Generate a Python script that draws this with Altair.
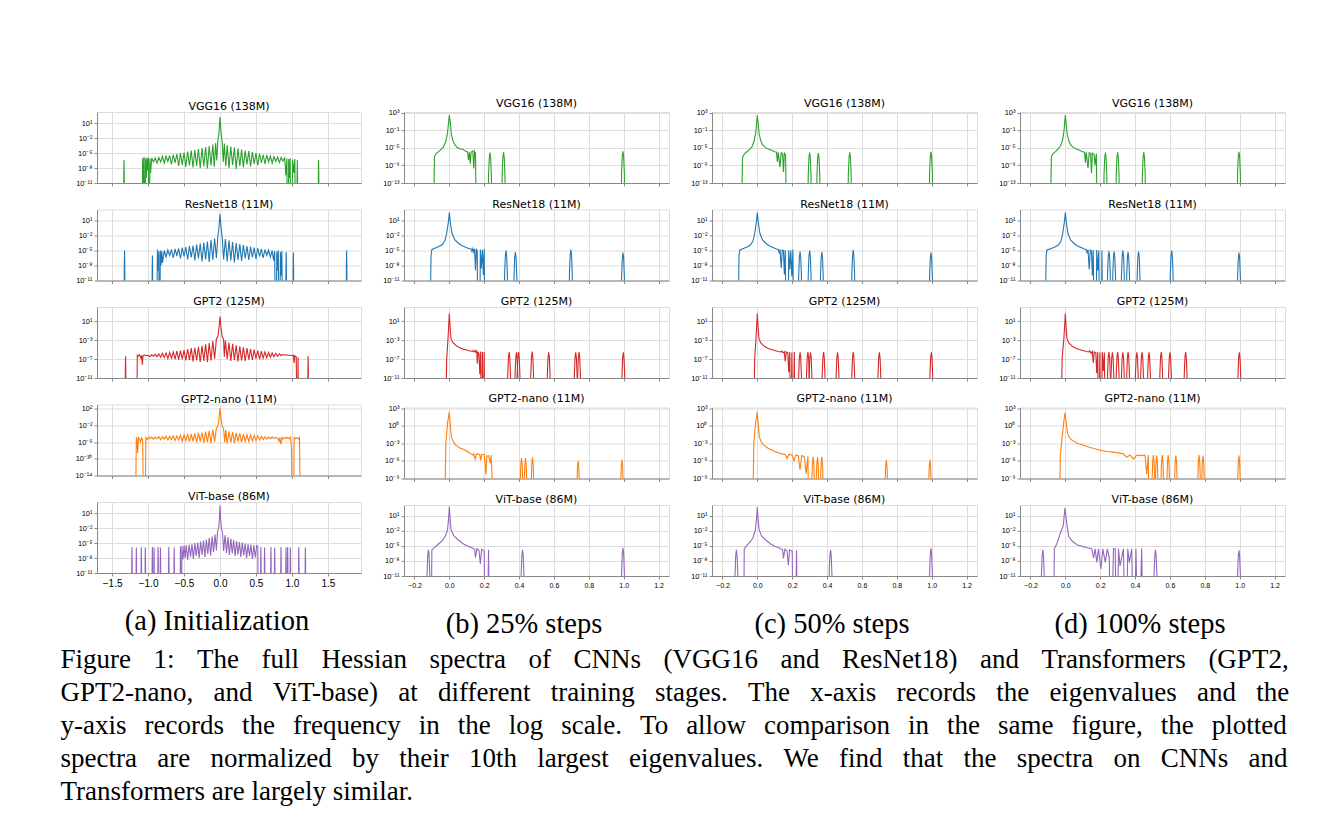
import json
import altair as alt
import pandas as pd

GREEN, BLUE, RED, ORANGE, PURPLE = "#2ca02c", "#1f77b4", "#d62728", "#ff7f0e", "#9467bd"
MODELS = ["VGG16 (138M)", "ResNet18 (11M)", "GPT2 (125M)", "GPT2-nano (11M)", "ViT-base (86M)"]
COLORS = [GREEN, BLUE, RED, ORANGE, PURPLE]
STAGES = ["(a) Initialization", "(b) 25% steps", "(c) 50% steps", "(d) 100% steps"]
CAPTION = [
    "Figure 1: The full Hessian spectra of CNNs (VGG16 and ResNet18) and Transformers (GPT2,",
    "GPT2-nano, and ViT-base) at different training stages. The x-axis records the eigenvalues and the",
    "y-axis records the frequency in the log scale. To allow comparison in the same figure, the plotted",
    "spectra are normalized by their 10th largest eigenvalues. We find that the spectra on CNNs and",
    "Transformers are largely similar.",
]
# word gaps that imitate the justified paragraph (en space + a thinner space)
GAPS = ["\u2002\u2004", "\u2002\u2005", "\u2002\u2006", "\u2002\u2005", " "]

XTICKS_A = [-1.5, -1.0, -0.5, 0.0, 0.5, 1.0, 1.5]
XTICKS_B = [-0.2, 0.0, 0.2, 0.4, 0.6, 0.8, 1.0, 1.2]
XDOM_A = [-1.71, 1.96]
XDOM_B = [-0.26, 1.26]

# y tick exponents and y domain exponents, per model (column a / columns b-d)
YT_A = [[1, -2, -5, -8, -11], [1, -2, -5, -8, -11], [1, -3, -7, -11], [2, -2, -6, -10, -14], [1, -2, -5, -8, -11]]
YT_B = [[3, -1, -5, -9, -13], [1, -2, -5, -8, -11], [1, -3, -7, -11], [3, 0, -3, -6, -9], [1, -2, -5, -8, -11]]
YD_A = [[-11, 3.2], [-11, 3.2], [-11, 4.0], [-14, 3.0], [-11, 3.2]]
YD_B = [[-13, 3.15], [-11, 3.2], [-11, 4.0], [-9, 3.1], [-11, 3.1]]

# ---- spectra: (eigenvalue, log10 density); -30 = zero density (off the bottom)
A_VGG = [(-1.09,-30),(-1.075,-6.0),(-1.065,-11.0),(-1.055,-5.8),(-1.045,-30),(-1.035,-6.1),(-1.025,-10.0),(-1.015,-5.9),(-1.005,-8.5),(-0.995,-6.0),(-0.985,-30),(-0.975,-6.1),(-0.965,-9.0),
 (-0.95,-6.0),(-0.925,-6.8),(-0.90,-6.0),(-0.875,-7.0),(-0.85,-5.9),(-0.825,-6.8),(-0.80,-5.7),(-0.775,-7.0),(-0.75,-5.6),(-0.725,-6.7),(-0.70,-5.5),(-0.675,-7.3),(-0.65,-5.3),(-0.625,-7.0),(-0.60,-5.2),(-0.575,-7.6),(-0.55,-5.0),(-0.525,-7.4),(-0.50,-4.9),(-0.475,-7.8),(-0.45,-4.7),(-0.425,-7.5),(-0.40,-4.5),(-0.375,-7.9),(-0.35,-4.4),(-0.325,-7.6),(-0.30,-4.2),(-0.275,-8.0),(-0.25,-4.0),(-0.225,-7.7),(-0.20,-3.8),(-0.175,-8.1),(-0.15,-3.6),(-0.125,-7.5),(-0.10,-3.3),(-0.08,-7.8),(-0.06,-3.0),(-0.045,-6.5),(-0.03,-2.6),(-0.015,-1.0),(0.0,2.2),
 (0.015,-1.0),(0.03,-2.7),(0.045,-6.8),(0.06,-3.1),(0.08,-7.6),(0.10,-3.4),(0.125,-8.0),(0.15,-3.7),(0.175,-7.4),(0.20,-3.9),(0.225,-8.2),(0.25,-4.1),(0.275,-7.6),(0.30,-4.3),(0.325,-7.9),(0.35,-4.5),(0.375,-7.3),(0.40,-4.6),(0.425,-7.7),(0.45,-4.8),(0.475,-7.2),(0.50,-5.0),(0.525,-7.5),(0.55,-5.1),(0.575,-7.0),(0.60,-5.3),(0.625,-7.2),(0.65,-5.4),(0.675,-6.8),(0.70,-5.6),(0.725,-7.0),(0.75,-5.7),(0.775,-6.7),(0.80,-5.8),(0.825,-6.9),(0.85,-5.9),(0.875,-6.6),(0.90,-6.0),
 (0.915,-9.5),(0.93,-6.1),(0.94,-30),(0.955,-6.2),(0.965,-10.0),(0.975,-6.0),(0.99,-30),(1.01,-6.3),(1.025,-9.0),(1.04,-6.2),(1.055,-30),(1.075,-6.4),(1.095,-30)]
A_VGG_PK = [(-1.335,-6.4),(1.37,-6.4)]

A_RES = [(-0.885,-30),(-0.87,-4.8),(-0.86,-9.0),(-0.85,-5.2),(-0.84,-30),(-0.83,-5.0),(-0.82,-8.0),(-0.81,-5.1),(-0.80,-7.5),
 (-0.775,-5.0),(-0.75,-6.3),(-0.725,-4.9),(-0.70,-6.0),(-0.675,-4.8),(-0.65,-6.5),(-0.625,-4.7),(-0.60,-6.1),(-0.575,-4.6),(-0.55,-6.6),(-0.525,-4.4),(-0.50,-6.2),(-0.475,-4.3),(-0.45,-6.8),(-0.425,-4.1),(-0.40,-6.4),(-0.375,-4.0),(-0.35,-7.0),(-0.325,-3.8),(-0.30,-6.6),(-0.275,-3.6),(-0.25,-7.2),(-0.225,-3.4),(-0.20,-6.8),(-0.175,-3.2),(-0.15,-7.3),(-0.125,-2.9),(-0.10,-6.9),(-0.075,-2.6),(-0.05,-6.5),(-0.03,-2.2),(-0.015,-0.5),(0.0,2.3),
 (0.015,-0.5),(0.03,-2.3),(0.05,-6.8),(0.075,-2.7),(0.10,-7.2),(0.125,-3.0),(0.15,-7.0),(0.175,-3.3),(0.20,-7.4),(0.225,-3.5),(0.25,-6.9),(0.275,-3.7),(0.30,-7.1),(0.325,-3.9),(0.35,-6.6),(0.375,-4.1),(0.40,-6.9),(0.425,-4.2),(0.45,-6.4),(0.475,-4.4),(0.50,-6.7),(0.525,-4.5),(0.55,-6.2),(0.575,-4.7),(0.60,-6.5),(0.625,-4.8),(0.65,-6.0),(0.675,-4.9),(0.70,-6.3),(0.725,-5.0),(0.745,-7.0),(0.76,-5.1),
 (0.775,-30),(0.79,-5.2),(0.80,-9.0),(0.81,-5.0),(0.825,-30),(0.84,-5.3),(0.85,-10.0),(0.86,-5.1),(0.875,-30)]
A_RES_PK = [(-1.327,-5.0),(-0.94,-6.0),(0.92,-5.3),(1.02,-5.4),(1.76,-5.0)]

A_GPT = [(-1.16,-30),(-1.15,-6.2),(-1.14,-6.4),(-1.12,-6.1),(-1.10,-6.8),(-1.09,-6.2),(-1.08,-8.2),(-1.07,-6.3),(-1.05,-6.1),(-1.03,-6.3),
 (-1.0,-6.2),(-0.975,-6.5),(-0.95,-6.1),(-0.925,-6.4),(-0.90,-6.0),(-0.875,-6.5),(-0.85,-5.9),(-0.825,-6.6),(-0.80,-5.8),(-0.775,-6.7),(-0.75,-5.7),(-0.725,-6.9),(-0.70,-5.6),(-0.675,-6.8),(-0.65,-5.5),(-0.625,-7.0),(-0.60,-5.3),(-0.575,-7.1),(-0.55,-5.2),(-0.525,-7.0),(-0.50,-5.1),(-0.475,-7.3),(-0.45,-4.9),(-0.425,-7.2),(-0.40,-4.7),(-0.375,-7.5),(-0.35,-4.6),(-0.325,-7.3),(-0.30,-4.4),(-0.275,-7.6),(-0.25,-4.2),(-0.225,-7.4),(-0.20,-3.9),(-0.175,-7.6),(-0.15,-3.6),(-0.125,-7.3),(-0.10,-3.2),(-0.075,-6.9),(-0.05,-2.7),(-0.03,-2.2),(-0.015,-0.5),(0.0,2.0),
 (0.015,-0.5),(0.03,-2.3),(0.05,-2.8),(0.06,-6.5),(0.075,-3.1),(0.10,-7.0),(0.125,-3.5),(0.15,-7.4),(0.175,-3.8),(0.20,-7.2),(0.225,-4.1),(0.25,-7.5),(0.275,-4.3),(0.30,-7.3),(0.325,-4.5),(0.35,-7.4),(0.375,-4.7),(0.40,-7.1),(0.425,-4.9),(0.45,-7.2),(0.475,-5.0),(0.50,-6.9),(0.525,-5.2),(0.55,-7.0),(0.575,-5.3),(0.60,-6.8),(0.625,-5.5),(0.65,-6.7),(0.675,-5.6),(0.70,-6.6),(0.725,-5.7),(0.75,-6.5),(0.775,-5.8),(0.80,-6.4),(0.825,-5.9),(0.85,-6.3),(0.875,-6.0),(0.90,-6.2),(0.925,-6.1),(0.95,-6.2),(0.975,-6.2),
 (1.0,-6.3),(1.02,-6.2),(1.03,-7.8),(1.04,-6.3),(1.06,-6.5),(1.075,-30),(1.085,-6.6),(1.095,-30)]
A_GPT_PK = [(-1.313,-6.4),(1.225,-6.4)]

A_NANO = [(-1.18,-30),(-1.163,-4.9),(-1.155,-5.3),(-1.145,-8.6),(-1.135,-4.9),(-1.12,-5.2),(-1.105,-6.0),(-1.09,-5.0),(-1.075,-5.6),(-1.06,-30),(-1.045,-30),(-1.03,-4.9),(-1.01,-5.4),(-0.99,-4.8),
 (-0.975,-5.2),(-0.95,-4.8),(-0.925,-5.3),(-0.90,-4.8),(-0.875,-5.2),(-0.85,-4.7),(-0.825,-5.4),(-0.80,-4.7),(-0.775,-5.3),(-0.75,-4.6),(-0.725,-5.5),(-0.70,-4.6),(-0.675,-5.4),(-0.65,-4.5),(-0.625,-5.6),(-0.60,-4.5),(-0.575,-5.5),(-0.55,-4.4),(-0.525,-5.8),(-0.50,-4.3),(-0.475,-5.6),(-0.45,-4.2),(-0.425,-5.9),(-0.40,-4.1),(-0.375,-5.8),(-0.35,-4.0),(-0.325,-6.1),(-0.30,-3.8),(-0.275,-5.9),(-0.25,-3.7),(-0.225,-6.2),(-0.20,-3.5),(-0.175,-6.0),(-0.15,-3.3),(-0.125,-6.3),(-0.10,-3.0),(-0.075,-5.9),(-0.05,-2.6),(-0.03,-2.1),(-0.015,-0.5),(0.0,2.2),
 (0.015,-0.5),(0.03,-2.2),(0.05,-2.8),(0.065,-6.0),(0.08,-3.1),(0.10,-6.3),(0.125,-3.4),(0.15,-6.1),(0.175,-3.6),(0.20,-6.2),(0.225,-3.8),(0.25,-5.9),(0.275,-3.9),(0.30,-6.0),(0.325,-4.1),(0.35,-5.8),(0.375,-4.2),(0.40,-5.9),(0.425,-4.3),(0.45,-5.7),(0.475,-4.4),(0.50,-5.6),(0.525,-4.5),(0.55,-5.5),(0.575,-4.6),(0.60,-5.4),(0.625,-4.7),(0.65,-5.3),(0.675,-4.8),(0.70,-5.2),(0.725,-4.8),(0.75,-5.1),(0.775,-4.9),(0.80,-5.0),
 (0.82,-5.8),(0.83,-4.9),(0.845,-6.5),(0.86,-4.9),(0.88,-5.3),(0.90,-4.9),(0.92,-5.1),(0.94,-4.9),(0.96,-5.2),(0.98,-4.8),(0.995,-8.0),(1.005,-30),(1.02,-30),(1.03,-4.9),(1.05,-5.2),(1.07,-4.9),(1.09,-5.3),(1.105,-4.9),(1.12,-30)]
A_NANO_PK = []

A_VIT = [(-0.56,-30),(-0.55,-5.7),(-0.54,-30),(-0.53,-5.6),(-0.515,-8.3),(-0.50,-5.5),(-0.485,-8.0),(-0.47,-5.4),(-0.45,-8.4),(-0.43,-5.3),(-0.41,-7.8),(-0.39,-5.2),(-0.37,-8.2),(-0.35,-5.0),(-0.33,-7.6),(-0.31,-4.9),(-0.29,-8.0),(-0.27,-4.7),(-0.25,-7.4),(-0.23,-4.5),(-0.21,-7.8),(-0.19,-4.3),(-0.17,-7.2),(-0.15,-4.0),(-0.13,-7.5),(-0.11,-3.7),(-0.09,-6.8),(-0.07,-3.3),(-0.05,-6.5),(-0.035,-2.8),(-0.02,-2.0),(-0.01,-0.5),(0.0,2.5),
 (0.01,-0.5),(0.02,-2.1),(0.035,-2.9),(0.05,-6.6),(0.07,-3.4),(0.09,-7.0),(0.11,-3.8),(0.13,-7.4),(0.15,-4.1),(0.17,-7.1),(0.19,-4.4),(0.21,-7.6),(0.23,-4.6),(0.25,-7.3),(0.27,-4.8),(0.29,-7.8),(0.31,-4.9),(0.33,-7.5),(0.35,-5.1),(0.37,-8.0),(0.39,-5.2),(0.41,-7.6),(0.43,-5.3),(0.45,-8.2),(0.47,-5.4),(0.49,-7.9),(0.51,-5.5),(0.525,-5.6),(0.535,-30)]
A_VIT_PK = [(-1.224,-5.8),(-1.163,-5.9),(-1.094,-5.8),(-1.038,-5.9),(-0.94,-5.8),(-0.917,-5.9),(-0.861,-5.8),(-0.828,-5.9),(-0.712,-5.8),(-0.637,-5.9),
 (0.568,-5.8),(0.62,-5.9),(0.708,-5.8),(0.76,-5.9),(0.848,-5.8),(0.918,-5.9),(0.94,-5.8),(0.978,-5.9),(1.095,-5.8),(1.187,-5.9)]

B_VGG = [(-0.095,-30),(-0.085,-7.0),(-0.076,-6.3),(-0.06,-5.8),(-0.045,-5.3),(-0.034,-4.8),(-0.02,-3.5),(-0.01,-1.5),(-0.004,1.0),(0.0,2.4),(0.005,1.0),(0.012,-2.0),(0.02,-3.3),(0.03,-4.2),(0.042,-4.8),(0.06,-5.2),(0.08,-5.4),(0.095,-5.8),(0.105,-6.0),(0.11,-7.8),(0.115,-6.0),(0.12,-8.6),(0.125,-6.0),(0.135,-5.7),(0.14,-9.7),(0.145,-5.8),(0.15,-6.2),(0.158,-30)]
B_VGG_PK = [(0.233,-6.1),(0.311,-6.0),(0.996,-5.8)]
B_RES = [(-0.115,-30),(-0.105,-6.0),(-0.1,-4.8),(-0.08,-4.5),(-0.06,-4.2),(-0.04,-3.8),(-0.025,-3.0),(-0.015,-1.5),(-0.005,0.8),(0.0,2.6),(0.005,0.8),(0.015,-1.5),(0.03,-2.8),(0.05,-3.5),(0.07,-4.0),(0.09,-4.3),(0.11,-4.6),(0.125,-4.7),(0.13,-5.2),(0.135,-4.6),(0.14,-5.3),(0.145,-4.7),(0.15,-9.0),(0.155,-4.8),(0.16,-5.0),(0.165,-30),(0.172,-30),(0.178,-4.8),(0.183,-8.6),(0.19,-4.9),(0.195,-9.9),(0.2,-4.7),(0.207,-30)]
B_RES_PK = [(0.325,-5.0),(0.379,-5.3),(0.697,-4.8),(0.996,-5.4)]
B_GPT = [(-0.025,-30),(-0.015,-6.8),(-0.008,-3.0),(-0.003,0.5),(0.0,2.6),(0.004,0.0),(0.01,-2.8),(0.02,-3.5),(0.04,-4.2),(0.06,-4.6),(0.08,-4.9),(0.10,-5.1),(0.12,-5.3),(0.13,-5.4),(0.135,-5.2),(0.14,-5.5),(0.148,-5.2),(0.152,-5.6),(0.158,-5.3),(0.16,-8.0),(0.165,-5.5),(0.17,-5.9),(0.175,-10.2),(0.18,-5.4),(0.185,-30),(0.19,-5.5),(0.195,-30),(0.2,-5.5),(0.205,-30)]
B_GPT_PK = [(0.343,-5.5),(0.385,-5.6),(0.397,-5.5),(0.475,-5.4),(0.57,-5.6),(0.725,-5.6),(0.744,-5.5),(0.998,-5.6)]
B_NANO = [(-0.035,-30),(-0.02,-3.0),(-0.01,0.5),(0.0,2.3),(0.006,0.0),(0.012,-2.0),(0.025,-2.8),(0.04,-3.4),(0.06,-3.8),(0.08,-4.0),(0.10,-4.3),(0.115,-4.6),(0.125,-4.8),(0.135,-5.0),(0.14,-4.8),(0.148,-5.7),(0.155,-4.9),(0.165,-4.8),(0.175,-5.0),(0.18,-5.9),(0.185,-4.9),(0.2,-4.9),(0.21,-8.3),(0.215,-5.2),(0.225,-5.1),(0.235,-6.4),(0.24,-5.0),(0.245,-8.6),(0.25,-30)]
B_NANO_PK = [(0.414,-5.5),(0.437,-5.5),(0.477,-5.4),(0.739,-6.0),(0.99,-5.8)]
B_VIT = [(-0.106,-30),(-0.1,-5.8),(-0.09,-5.5),(-0.07,-4.9),(-0.05,-4.3),(-0.035,-3.8),(-0.02,-2.8),(-0.01,-1.8),(-0.004,0.5),(0.0,2.8),(0.004,0.5),(0.01,-1.8),(0.025,-3.0),(0.05,-3.8),(0.075,-4.5),(0.1,-5.0),(0.13,-5.4),(0.145,-5.7),(0.15,-7.3),(0.158,-5.6),(0.17,-5.9),(0.178,-8.6),(0.185,-5.7),(0.2,-6.0),(0.205,-30),(0.215,-30),(0.225,-5.8),(0.232,-30)]
B_VIT_PK = [(-0.12,-5.8),(0.42,-5.8),(0.996,-5.4)]

C_VGG = [(-0.095,-30),(-0.085,-7.2),(-0.075,-6.4),(-0.06,-5.9),(-0.045,-5.4),(-0.03,-4.7),(-0.018,-3.4),(-0.008,-1.2),(-0.003,1.2),(0.0,2.4),(0.004,1.0),(0.01,-1.8),(0.02,-3.4),(0.03,-4.3),(0.045,-4.9),(0.065,-5.3),(0.085,-5.6),(0.1,-5.9),(0.11,-6.0),(0.115,-8.2),(0.12,-6.0),(0.13,-9.4),(0.137,-6.1),(0.145,-6.4),(0.15,-10.5),(0.155,-6.2),(0.162,-6.6),(0.17,-30)]
C_VGG_PK = [(0.30,-6.1),(0.35,-6.2),(0.53,-6.0),(0.996,-5.9)]
C_RES = [(-0.115,-30),(-0.105,-6.0),(-0.1,-4.9),(-0.08,-4.6),(-0.06,-4.3),(-0.04,-3.9),(-0.025,-3.1),(-0.015,-1.6),(-0.005,0.8),(0.0,2.6),(0.005,0.8),(0.015,-1.6),(0.03,-2.9),(0.05,-3.6),(0.07,-4.1),(0.09,-4.4),(0.11,-4.7),(0.12,-4.8),(0.125,-5.4),(0.13,-4.8),(0.137,-8.5),(0.143,-4.9),(0.15,-5.0),(0.155,-9.8),(0.16,-4.9),(0.168,-30),(0.175,-30),(0.18,-4.9),(0.186,-8.8),(0.192,-5.0),(0.198,-10.2),(0.204,-4.8),(0.21,-30)]
C_RES_PK = [(0.245,-5.2),(0.30,-5.0),(0.37,-5.3),(0.55,-4.9),(0.996,-5.4)]
C_GPT = [(-0.025,-30),(-0.015,-6.8),(-0.008,-3.0),(-0.003,0.5),(0.0,2.6),(0.004,0.0),(0.01,-2.8),(0.02,-3.6),(0.04,-4.3),(0.06,-4.7),(0.08,-5.0),(0.10,-5.2),(0.12,-5.4),(0.135,-5.5),(0.14,-5.3),(0.148,-5.7),(0.155,-5.4),(0.16,-7.5),(0.166,-5.5),(0.175,-5.7),(0.18,-9.8),(0.186,-5.5),(0.192,-30),(0.198,-5.6),(0.204,-30),(0.212,-5.5),(0.218,-30)]
C_GPT_PK = [(0.245,-5.6),(0.29,-5.5),(0.305,-5.6),(0.38,-5.5),(0.46,-5.6),(0.55,-5.5),(0.70,-5.6),(0.998,-5.6)]
C_NANO = [(-0.035,-30),(-0.02,-3.0),(-0.01,0.5),(0.0,2.3),(0.006,0.0),(0.012,-2.0),(0.025,-2.9),(0.04,-3.4),(0.06,-3.8),(0.08,-4.1),(0.10,-4.4),(0.12,-4.6),(0.14,-4.8),(0.16,-4.9),(0.17,-5.6),(0.18,-4.9),(0.2,-5.0),(0.21,-6.0),(0.22,-5.0),(0.235,-5.1),(0.245,-7.5),(0.255,-5.1),(0.27,-5.3),(0.28,-8.2),(0.29,-5.2),(0.3,-30)]
C_NANO_PK = [(0.32,-5.3),(0.345,-5.4),(0.37,-5.3),(0.74,-5.8),(0.99,-5.8)]
C_VIT = [(-0.08,-30),(-0.075,-5.6),(-0.06,-4.9),(-0.04,-4.2),(-0.025,-3.4),(-0.012,-2.0),(-0.004,0.5),(0.0,2.7),(0.004,0.5),(0.01,-1.8),(0.025,-3.1),(0.05,-3.9),(0.075,-4.6),(0.1,-5.1),(0.13,-5.5),(0.145,-5.8),(0.15,-7.5),(0.158,-5.7),(0.17,-6.0),(0.178,-8.8),(0.185,-5.8),(0.2,-6.1),(0.207,-30),(0.215,-30),(0.225,-5.9),(0.232,-30)]
C_VIT_PK = [(-0.12,-5.8),(0.42,-5.8),(0.996,-5.5)]

D_VGG = [(-0.09,-30),(-0.08,-7.0),(-0.07,-6.3),(-0.055,-5.8),(-0.04,-5.2),(-0.028,-4.6),(-0.016,-3.3),(-0.007,-1.0),(-0.003,1.2),(0.0,2.4),(0.004,1.0),(0.01,-1.8),(0.02,-3.4),(0.03,-4.3),(0.045,-4.9),(0.065,-5.3),(0.085,-5.6),(0.1,-5.9),(0.11,-6.0),(0.115,-8.4),(0.12,-6.0),(0.13,-9.6),(0.137,-6.1),(0.145,-6.3),(0.15,-10.8),(0.155,-6.2),(0.165,-6.5),(0.17,-9.0),(0.178,-6.3),(0.185,-30)]
D_VGG_PK = [(0.23,-6.1),(0.30,-6.0),(0.45,-6.0),(0.996,-5.9)]
D_RES = [(-0.12,-30),(-0.11,-6.0),(-0.105,-4.9),(-0.08,-4.6),(-0.06,-4.3),(-0.04,-3.9),(-0.025,-3.1),(-0.015,-1.6),(-0.005,0.8),(0.0,2.6),(0.005,0.8),(0.015,-1.6),(0.03,-2.9),(0.05,-3.6),(0.07,-4.1),(0.09,-4.4),(0.11,-4.7),(0.12,-4.8),(0.125,-5.6),(0.13,-4.8),(0.137,-8.8),(0.143,-4.9),(0.15,-5.1),(0.155,-10.0),(0.16,-4.9),(0.168,-30),(0.175,-30),(0.18,-4.9),(0.186,-9.0),(0.192,-5.0),(0.198,-30),(0.205,-30),(0.21,-5.0),(0.216,-30)]
D_RES_PK = [(0.25,-5.1),(0.28,-5.2),(0.33,-5.0),(0.36,-5.3),(0.42,-5.2),(0.61,-5.0),(0.996,-5.4)]
D_GPT = [(-0.03,-30),(-0.018,-6.6),(-0.009,-3.0),(-0.003,0.5),(0.0,2.6),(0.004,0.0),(0.01,-2.8),(0.02,-3.6),(0.04,-4.3),(0.06,-4.7),(0.08,-5.0),(0.10,-5.2),(0.12,-5.4),(0.135,-5.5),(0.14,-5.3),(0.148,-5.8),(0.155,-5.4),(0.16,-7.8),(0.166,-5.5),(0.175,-5.7),(0.18,-10.0),(0.186,-5.5),(0.192,-30),(0.198,-5.6),(0.204,-30),(0.212,-5.5),(0.218,-9.5),(0.224,-5.6),(0.23,-30)]
D_GPT_PK = [(0.25,-5.5),(0.27,-5.6),(0.30,-5.5),(0.33,-5.6),(0.36,-5.5),(0.41,-5.6),(0.44,-5.5),(0.48,-5.6),(0.55,-5.5),(0.60,-5.6),(0.69,-5.5),(0.998,-5.6)]
D_NANO = [(-0.038,-30),(-0.029,-5.1),(-0.01,0.4),(-0.002,2.2),(0.013,-1.4),(0.03,-2.3),(0.067,-3.0),(0.1,-3.3),(0.143,-3.7),(0.2,-4.2),(0.24,-4.4),(0.276,-4.5),(0.3,-4.6),(0.333,-4.8),(0.352,-5.4),(0.371,-5.0),(0.39,-5.7),(0.41,-5.0),(0.43,-5.1),(0.457,-5.0),(0.467,-8.3),(0.476,-5.0),(0.486,-30)]
D_NANO_PK = [(0.505,-5.0),(0.524,-5.1),(0.556,-5.0),(0.59,-5.0),(0.634,-5.1),(0.767,-5.0),(0.79,-5.1),(0.996,-5.1)]
D_VIT = [(-0.07,-30),(-0.063,-5.6),(-0.045,-4.3),(-0.029,-2.5),(-0.012,-1.0),(-0.002,2.5),(0.008,-0.5),(0.019,-3.1),(0.04,-4.1),(0.067,-4.8),(0.095,-5.1),(0.124,-5.4),(0.152,-5.6),(0.162,-7.4),(0.171,-5.6),(0.181,-8.3),(0.19,-5.6),(0.204,-9.6),(0.215,-5.6),(0.229,-8.3),(0.241,-5.6),(0.252,-7.4),(0.262,-30),(0.276,-5.6),(0.286,-5.6),(0.295,-30),(0.305,-5.6),(0.314,-9.0),(0.333,-5.6),(0.348,-30),(0.358,-5.6),(0.367,-8.3),(0.381,-5.6),(0.394,-30),(0.405,-5.6),(0.419,-30),(0.438,-5.5),(0.448,-30)]
D_VIT_PK = [(-0.129,-5.8),(0.517,-5.8),(0.996,-5.9)]

SPECTRA = [
    [(A_VGG, A_VGG_PK), (A_RES, A_RES_PK), (A_GPT, A_GPT_PK), (A_NANO, A_NANO_PK), (A_VIT, A_VIT_PK)],
    [(B_VGG, B_VGG_PK), (B_RES, B_RES_PK), (B_GPT, B_GPT_PK), (B_NANO, B_NANO_PK), (B_VIT, B_VIT_PK)],
    [(C_VGG, C_VGG_PK), (C_RES, C_RES_PK), (C_GPT, C_GPT_PK), (C_NANO, C_NANO_PK), (C_VIT, C_VIT_PK)],
    [(D_VGG, D_VGG_PK), (D_RES, D_RES_PK), (D_GPT, D_GPT_PK), (D_NANO, D_NANO_PK), (D_VIT, D_VIT_PK)],
]

SUP = ["\u207b\u00b9\u2074", "\u207b\u00b9\u00b3", "\u207b\u00b9\u00b2", "\u207b\u00b9\u00b9", "\u207b\u00b9\u2070",
       "\u207b\u2079", "\u207b\u2078", "\u207b\u2077", "\u207b\u2076", "\u207b\u2075", "\u207b\u2074", "\u207b\u00b3",
       "\u207b\u00b2", "\u207b\u00b9", "\u2070", "\u00b9", "\u00b2", "\u00b3", "\u2074"]
LABEL_EXPR = "'10' + " + json.dumps(SUP, ensure_ascii=False) + "[round(log(datum.value) / LN10) + 14]"


def frame(points, peaks, narrow):
    rows = [(x, e, 0) for x, e in points]
    for i, (xc, e) in enumerate(peaks, start=1):
        if narrow:
            shape = [(-0.008, -30), (-0.003, e - 3), (0, e), (0.003, e - 3), (0.008, -30)]
        else:
            shape = [(-0.012, -30), (-0.008, e - 5), (-0.004, e - 1.2), (0, e), (0.004, e - 1.2), (0.008, e - 5), (0.012, -30)]
        rows += [(xc + dx, ye, i) for dx, ye in shape]
    return pd.DataFrame(rows, columns=["x", "e", "seg"])


H = 71
cols = []
for c in range(4):
    panels = []
    for r in range(5):
        pts, pks = SPECTRA[c][r]
        df = frame(pts, pks, c == 0)
        yt = (YT_A if c == 0 else YT_B)[r]
        yd = (YD_A if c == 0 else YD_B)[r]
        bottom = r == 4
        xaxis = dict(values=XTICKS_A if c == 0 else XTICKS_B, grid=True, labels=bottom, ticks=True,
                     tickSize=3, format=".1f", labelFontSize=10 if c == 0 else 7, labelFlush=False,
                     labelOverlap=False, labelPadding=2)
        if bottom:
            xaxis.update(title=STAGES[c], titleFont="Liberation Serif", titleFontSize=28.5,
                         titleFontWeight="normal", titleColor="black", titleX=119.5, titleY=56.5,
                         titleAlign="center", titleBaseline="alphabetic")
        else:
            xaxis.update(title=None)
        ext = 36 if c == 0 else 30
        ch = (
            alt.Chart(df)
            .transform_calculate(y="pow(10, datum.e)")
            .mark_line(clip=True, strokeWidth=1.1, color=COLORS[r])
            .encode(
                x=alt.X("x:Q", scale=alt.Scale(domain=XDOM_A if c == 0 else XDOM_B, nice=False, zero=False),
                        axis=alt.Axis(**xaxis)),
                y=alt.Y("y:Q", scale=alt.Scale(type="log", domain=[10 ** yd[0], 10 ** yd[1]], nice=False),
                        axis=alt.Axis(values=[10.0 ** v for v in yt], labelExpr=LABEL_EXPR, title=None,
                                      grid=True, labelFontSize=7.5, tickSize=3, labelPadding=2,
                                      minExtent=ext, maxExtent=ext, labelOverlap=False, labelFlush=False)),
                detail="seg:N",
                order="x:Q",
            )
            .properties(width=264 if c == 0 else 265, height=H,
                        title=alt.TitleParams(MODELS[r], font="DejaVu Sans", fontSize=11,
                                              fontWeight="normal", color="black", offset=0))
        )
        panels.append(ch)
    cols.append(alt.vconcat(*panels, spacing=10.5))

caption_lines = [line.replace(" ", gap) for line, gap in zip(CAPTION, GAPS)]

chart = (
    alt.hconcat(*cols, spacing=11)
    .properties(
        padding={"left": 60, "top": 97, "right": 5, "bottom": 5},
        title=alt.TitleParams(caption_lines, orient="bottom", anchor="start", font="Liberation Serif",
                              fontSize=27, fontWeight="normal", color="black", lineHeight=33,
                              offset=8),
    )
    .configure_view(stroke="#222222", strokeWidth=1)
    .configure_axis(gridColor="#dcdcdc", gridWidth=0.8, tickColor="#222222", tickWidth=0.8,
                    labelColor="#222222", labelFont="DejaVu Sans", domain=False)
    .configure(background="white")
)

chart.save("out.html", embed_options={"renderer": "svg", "actions": False})
